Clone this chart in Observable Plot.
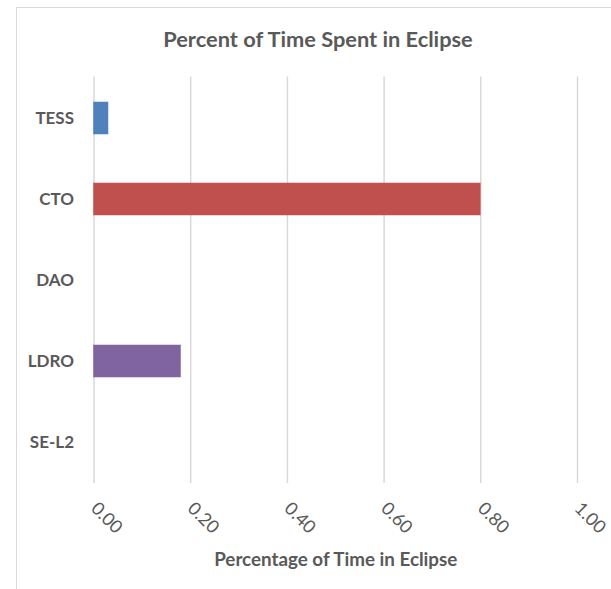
<!DOCTYPE html>
<html>
<head>
<meta charset="utf-8">
<script src="https://cdn.jsdelivr.net/npm/d3@7"></script>
<script src="https://cdn.jsdelivr.net/npm/@observablehq/plot@0.6"></script>
<style>
  html, body { margin: 0; padding: 0; background: #fff; overflow: hidden; }
  #frame { position: absolute; left: 16px; top: 7px; width: 700px; height: 700px;
           border-left: 1.5px solid #d9d9d9; border-top: 1.5px solid #d9d9d9; box-sizing: border-box; }
  #wrap { position: relative; width: 611px; height: 589px; }
  #title { position: absolute; left: 0; top: 0; width: 611px; height: 60px; padding-left: 25px; box-sizing: border-box;
           text-align: center; font-family: Lato, sans-serif; font-weight: bold; font-size: 21.8px; color: #595959;
           line-height: 78px; }
  #chart { position: absolute; left: 0; top: 60px; }
</style>
</head>
<body>
<div id="wrap">
  <div id="frame"></div>
  <div id="title">Percent of Time Spent in Eclipse</div>
  <div id="chart"></div>
</div>
<script>
const categories = ["TESS", "CTO", "DAO", "LDRO", "SE-L2"];
const values = [0.03, 0.80, 0, 0.18, 0];
const colors = ["#4F81BD", "#C0504D", "#9BBB59", "#8064A2", "#4BACC6"];
const xTicks = [0, 0.2, 0.4, 0.6, 0.8, 1.0];

const data = categories.map((c, i) => ({category: c, value: values[i], color: colors[i]}));

const chart = Plot.plot({
  width: 611,
  height: 529,
  marginLeft: 93.5,
  marginRight: 34,
  marginTop: 16.5,
  marginBottom: 106,
  style: {fontFamily: "Lato, sans-serif", color: "#595959", background: "transparent"},
  x: {domain: [0, 1]},
  y: {domain: categories, paddingInner: 0.6, paddingOuter: 0.3},
  marks: [
    Plot.gridX(xTicks, {stroke: "#d9d9d9", strokeOpacity: 1, strokeWidth: 1.5}),
    Plot.barX(data, {y: "category", x: "value", fill: "color", stroke: "color", strokeOpacity: 0.5, strokeWidth: 1}),
    Plot.axisY({tickSize: 0, tickPadding: 20, fontSize: 17, fontWeight: "bold", label: null, fill: "#595959"}),
    Plot.axisX({ticks: xTicks, tickFormat: d3.format(".2f"), tickRotate: 45, tickSize: 0, tickPadding: 22,
      fontSize: 18, fill: "#595959", label: "Percentage of Time in Eclipse", labelAnchor: "center",
      labelArrow: "none", labelOffset: 82})
  ]
});
document.getElementById("chart").appendChild(chart);
chart.querySelectorAll("g[aria-label='x-axis label'] text").forEach(t => {
  t.setAttribute("font-weight", "bold");
  t.setAttribute("font-size", "18.8");
});
</script>
</body>
</html>
